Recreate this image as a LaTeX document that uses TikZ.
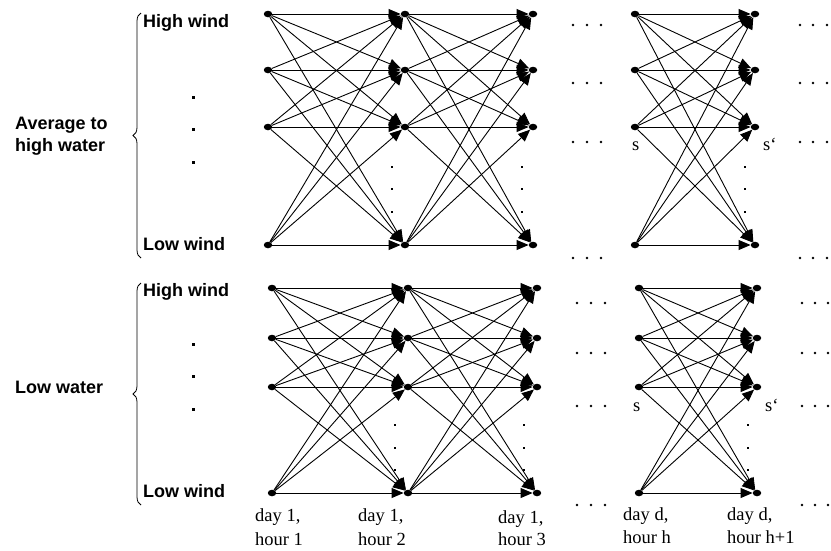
\documentclass[tikz,border=0pt]{standalone}
\usepackage{fontspec}
\setmainfont{Liberation Serif}
\newfontfamily\lblsans{Liberation Sans}
\usetikzlibrary{arrows.meta,decorations.pathreplacing,shapes.geometric}

\begin{document}
\begin{tikzpicture}[x=1pt,y=-1pt,
  state/.style={ellipse,fill=black,minimum width=8.5pt,minimum height=6.5pt,inner sep=0pt},
  edge/.style={line width=0.9pt,-{Triangle[length=12pt,width=10pt]}},
  windlbl/.style={font=\lblsans\bfseries\fontsize{18}{22}\selectfont,anchor=base west,inner sep=0pt},
  grouplbl/.style={windlbl,align=left},
  timelbl/.style={font=\fontsize{18.5}{24}\selectfont,anchor=base west,inner sep=0pt},
  slbl/.style={font=\fontsize{18.5}{24}\selectfont,anchor=base west,inner sep=0pt},
  groupbrace/.style={decorate,decoration={brace,amplitude=8pt},line width=0.8pt},
]
\useasboundingbox (0,0) rectangle (831,550);

% ---- state nodes: upper block (average to high water) ----
\foreach \c/\x in {1/268,2/405,3/533,4/635,5/755}
  \foreach \r/\y in {1/14,2/70,3/127,4/245}
    \node[state] (t-\c-\r) at (\x,\y) {};

% ---- state nodes: lower block (low water) ----
\foreach \c/\x in {1/272,2/408,3/537,4/639,5/757}
  \foreach \r/\y in {1/288,2/338,3/387,4/493}
    \node[state] (b-\c-\r) at (\x,\y) {};

% ---- transitions between consecutive hours ----
\foreach \blk in {t,b}
  \foreach \s/\d in {1/2,2/3,4/5}
    \foreach \i in {1,...,4}
      \foreach \j in {1,...,4}
        \draw[edge] (\blk-\s-\i) -- (\blk-\d-\j);

% ---- vertical ellipses inside the target columns ----
\foreach \x in {392,522,745}
  \foreach \y in {167,189,212}
    \fill (\x-0.9,\y-0.9) rectangle ++(1.8,1.8);
\foreach \x in {395,524,748}
  \foreach \y in {425,448,470}
    \fill (\x-0.9,\y-0.9) rectangle ++(1.8,1.8);

% ---- horizontal ellipses around the gap ----
\foreach \y in {25,83,142,258}
  \foreach \x in {573,587,601,800,813,827}
    \fill (\x,\y) circle (1.4);
\foreach \y in {303,353,406,505}
  \foreach \x in {577,591,605,802,815,828}
    \fill (\x,\y) circle (1.4);

% ---- wind labels and braces ----
\node[windlbl] (thw) at (143,27) {High wind};
\node[windlbl] (tlw) at (143,250) {Low wind};
\node[windlbl] (bhw) at (143,296) {High wind};
\node[windlbl] (blw) at (143,497) {Low wind};

\foreach \y in {96,128,161}
  \fill (191.5,\y) rectangle ++(3.2,3.2);
\foreach \y in {343,375,408}
  \fill (191.5,\y) rectangle ++(3.2,3.2);

\draw[groupbrace] (141,258) -- (141,13);
\draw[groupbrace] (141,505) -- (141,283);

\node[grouplbl,anchor=west] (avg) at (15,136) {Average to\\high water};
\node[windlbl] (low) at (15,393) {Low water};

% ---- state markers ----
\node[slbl] (ts) at (632,150) {s};
\node[slbl] (tsp) at (763,150) {s‘};
\node[slbl] (bs) at (633,411) {s};
\node[slbl] (bsp) at (765,411) {s‘};

% ---- time labels ----
\node[timelbl] (d1a) at (255,521) {day 1,};
\node[timelbl] (d1b) at (255,545) {hour 1};
\node[timelbl] (d2a) at (358,521) {day 1,};
\node[timelbl] (d2b) at (358,545) {hour 2};
\node[timelbl] (d3a) at (498,523) {day 1,};
\node[timelbl] (d3b) at (498,545) {hour 3};
\node[timelbl] (d4a) at (623,520) {day d,};
\node[timelbl] (d4b) at (623,543) {hour h};
\node[timelbl] (d5a) at (727,520) {day d,};
\node[timelbl] (d5b) at (727,543) {hour h+1};
\end{tikzpicture}
\end{document}
